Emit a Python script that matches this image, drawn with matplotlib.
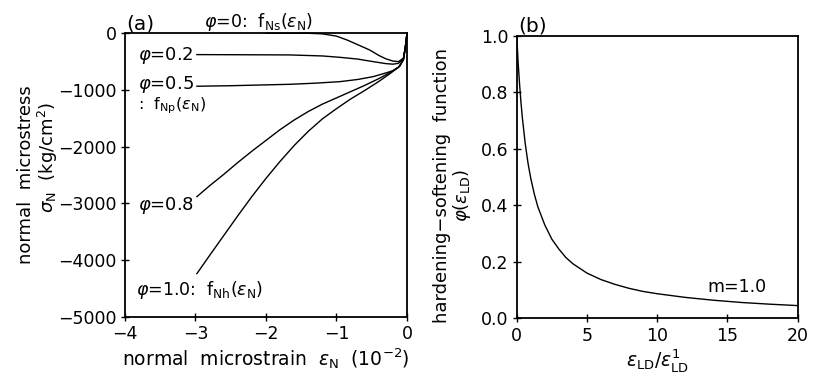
import matplotlib
matplotlib.use("Agg")
import matplotlib.pyplot as plt

plt.rcParams['font.family'] = ['DejaVu Sans']
plt.rcParams['mathtext.fontset'] = 'dejavusans'
plt.rcParams['font.size'] = 12

# (a) normal microstress vs normal microstrain (strain in 1e-2)
eps_phi0 = [-2.0, -1.4, -1.2, -1.0, -0.85, -0.7, -0.53, -0.4, -0.3, -0.2, -0.12, -0.05, -0.025, -0.01, 0.0]
sig_phi0 = [0, 0, -10, -50, -118, -200, -294, -390, -450, -490, -500, -440, -260, -120, 0]

eps_phi02 = [-2.98, -2.5, -2.0, -1.66, -1.2, -0.95, -0.7, -0.48, -0.3, -0.2, -0.12, -0.05, -0.025, -0.01, 0.0]
sig_phi02 = [-376, -378, -380, -382, -400, -424, -455, -500, -535, -545, -530, -445, -260, -120, 0]

eps_phi05 = [-2.98, -2.5, -2.0, -1.66, -1.3, -0.95, -0.7, -0.48, -0.3, -0.2, -0.1, -0.05, -0.025, -0.01, 0.0]
sig_phi05 = [-934, -925, -910, -900, -880, -853, -815, -765, -700, -660, -580, -450, -265, -120, 0]

eps_phi08 = [-2.98, -2.8, -2.6, -2.4, -2.2, -2.0, -1.8, -1.6, -1.4, -1.2, -1.0, -0.8, -0.6, -0.4,
             -0.25, -0.12, -0.05, -0.025, -0.01, 0.0]
sig_phi08 = [-2882, -2690, -2490, -2280, -2080, -1890, -1700, -1530, -1380, -1250, -1140, -1030, -920, -800,
             -700, -600, -470, -270, -120, 0]

eps_phi10 = [-2.98, -2.8, -2.6, -2.4, -2.2, -2.0, -1.8, -1.6, -1.4, -1.2, -1.0, -0.8, -0.6, -0.4,
             -0.25, -0.12, -0.05, -0.025, -0.01, 0.0]
sig_phi10 = [-4240, -3920, -3570, -3220, -2880, -2560, -2260, -1980, -1730, -1510, -1330, -1160, -1010, -850,
             -720, -600, -470, -270, -120, 0]

# (b) hardening-softening function, m = 1.0
ratio = [0, 0.1, 0.2, 0.3, 0.4, 0.6, 0.8, 1.0, 1.25, 1.5, 2.0, 2.5, 3.0, 3.5, 4.0, 5.0,
         6.0, 7.0, 8.0, 9.0, 10.0, 12.0, 14.0, 16.0, 18.0, 20.0]
phi = [1.0, 0.905, 0.83, 0.765, 0.71, 0.62, 0.55, 0.495, 0.44, 0.395, 0.33, 0.28, 0.245, 0.215,
       0.193, 0.16, 0.137, 0.12, 0.106, 0.095, 0.087, 0.074, 0.064, 0.056, 0.05, 0.045]

fig = plt.figure(figsize=(8.18, 3.74), dpi=100)
ax1 = fig.add_axes([0.1528, 0.1532, 0.3447, 0.7578])
ax2 = fig.add_axes([0.6317, 0.1489, 0.3435, 0.7556])

for e, s in [(eps_phi0, sig_phi0), (eps_phi02, sig_phi02), (eps_phi05, sig_phi05),
             (eps_phi08, sig_phi08), (eps_phi10, sig_phi10)]:
    ax1.plot(e, s, color='black', lw=1.0, clip_on=False)

ax1.set_xlim(-4, 0)
ax1.set_ylim(-5000, 0)
ax1.set_xticks([-4, -3, -2, -1, 0])
ax1.set_yticks([0, -1000, -2000, -3000, -4000, -5000])
ax1.set_xlabel(r"normal  microstrain  $\varepsilon_{\rm N}$  (10$^{-2}$)", labelpad=2, fontsize=13.5)

ax1.text(-0.35, 0.5, "normal  microstress", transform=ax1.transAxes, rotation=90,
         ha='center', va='center', fontsize=13)
ax1.text(-0.272, 0.563, r"$\sigma_{\rm N}$  (kg/cm$^2$)", transform=ax1.transAxes, rotation=90,
         ha='center', va='center', fontsize=13)
ax1.text(0.005, 1.0, "(a)", transform=ax1.transAxes, ha='left', va='bottom', fontsize=14.5)

ax1.text(0.28, 1.04, r"$\varphi$=0:  f$_{\rm Ns}$($\varepsilon_{\rm N}$)", transform=ax1.transAxes,
         ha='left', va='center', fontsize=12.5)
ax1.text(0.045, 0.922, r"$\varphi$=0.2", transform=ax1.transAxes, ha='left', va='center', fontsize=13)
ax1.text(0.045, 0.82, r"$\varphi$=0.5", transform=ax1.transAxes, ha='left', va='center', fontsize=13)
ax1.text(0.045, 0.745, r":  f$_{\rm Np}$($\varepsilon_{\rm N}$)", transform=ax1.transAxes,
         ha='left', va='center', fontsize=11.5)
ax1.text(0.045, 0.394, r"$\varphi$=0.8", transform=ax1.transAxes, ha='left', va='center', fontsize=13)
ax1.text(0.04, 0.094, r"$\varphi$=1.0:  f$_{\rm Nh}$($\varepsilon_{\rm N}$)", transform=ax1.transAxes,
         ha='left', va='center', fontsize=12.5)

ax2.plot(ratio, phi, color='black', lw=1.0)
ax2.set_xlim(0, 20)
ax2.set_ylim(0, 1.0)
ax2.set_xticks([0, 5, 10, 15, 20])
ax2.set_yticks([0.0, 0.2, 0.4, 0.6, 0.8, 1.0])
ax2.set_yticklabels(["0.0", "0.2", "0.4", "0.6", "0.8", "1.0"])
ax2.set_xlabel(r"$\varepsilon_{\rm LD}/\varepsilon^{1}_{\rm LD}$", labelpad=2, fontsize=13.5)
ax2.text(-0.265, 0.47, "hardening\u2212softening  function", transform=ax2.transAxes, rotation=90,
         ha='center', va='center', fontsize=13)
ax2.text(-0.195, 0.436, r"$\varphi(\varepsilon_{\rm LD})$", transform=ax2.transAxes, rotation=90,
         ha='center', va='center', fontsize=13)
ax2.text(0.005, 1.0, "(b)", transform=ax2.transAxes, ha='left', va='bottom', fontsize=14.5)
ax2.text(0.677, 0.112, "m=1.0", transform=ax2.transAxes, ha='left', va='center', fontsize=12.5)

for ax in (ax1, ax2):
    for sp in ax.spines.values():
        sp.set_linewidth(1.3)
    ax.tick_params(direction='inout', length=6, width=1.0, pad=3, labelsize=12.5)

fig.savefig("out.png", dpi=100)
